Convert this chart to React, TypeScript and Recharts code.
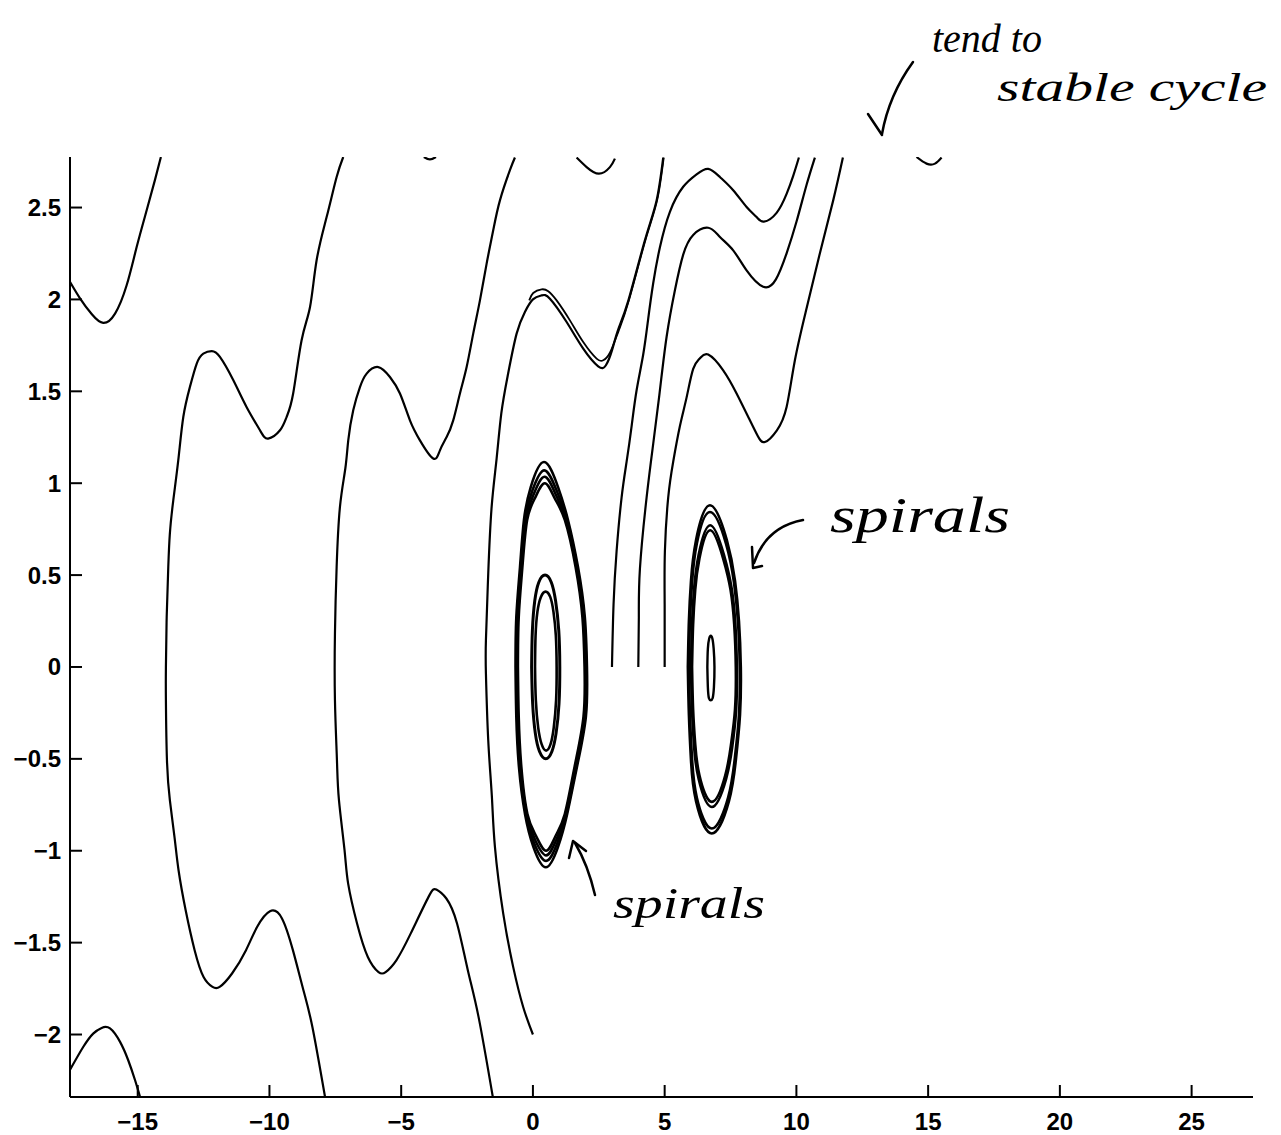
import React from "react";
import { LineChart, Line, XAxis, YAxis } from "recharts";

type P = [number, number];

const xTicks = [-15, -10, -5, 0, 5, 10, 15, 20, 25];
const yTicks = [-2, -1.5, -1, -0.5, 0, 0.5, 1, 1.5, 2, 2.5];
const xDomain: [number, number] = [-17.57, 27.33];
const yDomain: [number, number] = [-2.34, 2.775];

const curveA: P[] = [[-17.64, 2.113], [-17.19, 2.006], [-16.74, 1.919], [-16.31, 1.872], [-15.86, 1.923], [-15.42, 2.077], [-15.04, 2.285], [-14.66, 2.485], [-14.35, 2.648], [-14.12, 2.775]];
const curveA2: P[] = [[-17.6, -2.2], [-17.07, -2.068], [-16.69, -1.995], [-16.37, -1.964], [-16.05, -1.967], [-15.67, -2.04], [-15.36, -2.14], [-15.1, -2.249], [-14.91, -2.34]];
const curveB: P[] = [[-7.2, 2.775], [-7.45, 2.666], [-7.83, 2.448], [-8.21, 2.213], [-8.46, 1.959], [-8.78, 1.778], [-9.1, 1.488], [-9.35, 1.36], [-9.6, 1.288], [-10.05, 1.243], [-10.36, 1.288], [-10.87, 1.415], [-11.37, 1.56], [-11.88, 1.687], [-12.19, 1.719], [-12.51, 1.705], [-12.76, 1.651], [-13.02, 1.523], [-13.27, 1.36], [-13.46, 1.125], [-13.65, 0.907], [-13.78, 0.726], [-13.84, 0.544], [-13.9, 0.272], [-13.93, 0], [-13.93, -0.181], [-13.89, -0.508], [-13.78, -0.725], [-13.6, -0.93], [-13.45, -1.106], [-13.18, -1.324], [-12.84, -1.541], [-12.5, -1.687], [-12.16, -1.741], [-11.89, -1.741], [-11.42, -1.668], [-10.89, -1.541], [-10.47, -1.415], [-9.98, -1.329], [-9.53, -1.367], [-9.11, -1.541], [-8.71, -1.759], [-8.37, -1.959], [-7.89, -2.34]];
const curveC: P[] = [[-0.683, 2.772], [-0.873, 2.703], [-1.252, 2.539], [-1.507, 2.376], [-1.757, 2.195], [-2.011, 1.995], [-2.266, 1.814], [-2.516, 1.632], [-2.77, 1.488], [-3.025, 1.342], [-3.275, 1.251], [-3.529, 1.179], [-3.784, 1.134], [-4.288, 1.233], [-4.668, 1.342], [-5.047, 1.488], [-5.427, 1.578], [-5.871, 1.632], [-6.311, 1.596], [-6.565, 1.523], [-6.82, 1.397], [-7.009, 1.233], [-7.12, 1.08], [-7.324, 0.871], [-7.45, 0.544], [-7.514, 0.182], [-7.514, -0.181], [-7.438, -0.508], [-7.362, -0.725], [-7.15, -0.997], [-7.013, -1.179], [-6.675, -1.396], [-6.266, -1.578], [-5.86, -1.66], [-5.59, -1.66], [-5.184, -1.596], [-4.641, -1.451], [-3.962, -1.251], [-3.666, -1.211], [-3.286, -1.26], [-2.88, -1.396], [-2.471, -1.65], [-2.064, -1.904], [-1.522, -2.34]];
const curveD: P[] = [[0.0, -2.0], [-0.37, -1.85], [-0.75, -1.632], [-1.127, -1.342], [-1.442, -0.979], [-1.56, -0.7], [-1.696, -0.399], [-1.784, -0.036], [-1.784, 0.145], [-1.696, 0.508], [-1.567, 0.871], [-1.378, 1.134], [-1.2, 1.38], [-0.95, 1.59], [-0.619, 1.814], [-0.304, 1.932], [0.0, 2.0], [0.33, 2.022], [0.645, 2.004], [1.279, 1.877], [1.909, 1.732], [2.478, 1.636], [2.77, 1.642], [3.0, 1.723], [3.226, 1.832], [3.624, 1.995], [4.25, 2.322], [4.694, 2.539], [4.945, 2.772]];
const curveE: P[] = [[-0.14, 1.995], [0.011, 2.035], [0.33, 2.055], [0.581, 2.045], [0.899, 1.995], [1.404, 1.886], [1.909, 1.768], [2.417, 1.678], [2.668, 1.669], [2.922, 1.71], [3.256, 1.83], [3.643, 1.995], [4.269, 2.322], [4.713, 2.539], [4.964, 2.772]];
const arcTopLeft: P[] = [[-4.14, 2.775], [-3.91, 2.762], [-3.68, 2.775]];
const arcTopMid: P[] = [[1.658, 2.772], [2.038, 2.72], [2.505, 2.684], [2.922, 2.72], [3.112, 2.766]];
const arcTopRight: P[] = [[14.56, 2.775], [14.94, 2.739], [15.26, 2.739], [15.51, 2.772]];
const curveG1: P[] = [[3.0, 0], [3.06, 0.34], [3.176, 0.631], [3.366, 0.923], [3.556, 1.117], [3.746, 1.311], [3.935, 1.506], [4.186, 1.7], [4.375, 1.894], [4.565, 2.088], [4.82, 2.284], [5.199, 2.477], [5.704, 2.613], [6.212, 2.681], [6.653, 2.71], [7.097, 2.666], [7.601, 2.594], [8.11, 2.503], [8.489, 2.448], [8.767, 2.423], [9.248, 2.471], [9.628, 2.574], [9.879, 2.672], [10.095, 2.772]];
const curveG2: P[] = [[4.0, 0], [4.02, 0.27], [4.061, 0.534], [4.315, 0.923], [4.565, 1.214], [4.82, 1.506], [5.074, 1.797], [5.389, 2.05], [5.704, 2.244], [6.083, 2.351], [6.653, 2.39], [7.097, 2.34], [7.601, 2.267], [8.11, 2.158], [8.74, 2.069], [9.222, 2.109], [9.628, 2.251], [10.008, 2.425], [10.387, 2.624], [10.702, 2.772]];
const curveG3: P[] = [[5.0, 0], [5.0, 0.34], [5.009, 0.631], [5.135, 0.923], [5.324, 1.117], [5.579, 1.311], [5.833, 1.467], [6.083, 1.622], [6.338, 1.68], [6.653, 1.7], [7.222, 1.614], [7.73, 1.488], [8.235, 1.342], [8.539, 1.255], [8.805, 1.224], [9.26, 1.288], [9.628, 1.415], [9.943, 1.669], [10.387, 1.952], [10.892, 2.251], [11.397, 2.539], [11.765, 2.772]];

const leftLoop1: P[] = [[-0.66, 0], [-0.63, 0.27], [-0.49, 0.544], [-0.34, 0.8], [-0.08, 0.98], [0.42, 1.115], [0.95, 0.98], [1.33, 0.8], [1.71, 0.544], [1.97, 0.27], [2.05, 0], [2.01, -0.27], [1.67, -0.544], [1.3, -0.8], [0.95, -0.98], [0.49, -1.09], [0.02, -0.98], [-0.3, -0.8], [-0.53, -0.544], [-0.63, -0.27], [-0.66, 0]];
const leftLoop2: P[] = [[-0.63, 0], [-0.6, 0.27], [-0.46, 0.544], [-0.3, 0.8], [-0.02, 0.96], [0.43, 1.07], [0.9, 0.96], [1.29, 0.8], [1.68, 0.544], [1.94, 0.27], [2.02, 0], [1.98, -0.27], [1.64, -0.544], [1.27, -0.8], [0.92, -0.96], [0.5, -1.055], [0.05, -0.96], [-0.27, -0.8], [-0.5, -0.544], [-0.6, -0.27], [-0.63, 0]];
const leftLoop3: P[] = [[-0.6, 0], [-0.57, 0.27], [-0.43, 0.544], [-0.26, 0.8], [0.03, 0.94], [0.44, 1.035], [0.86, 0.94], [1.25, 0.8], [1.65, 0.544], [1.91, 0.27], [1.99, 0], [1.95, -0.27], [1.61, -0.544], [1.24, -0.8], [0.89, -0.94], [0.5, -1.025], [0.08, -0.94], [-0.24, -0.8], [-0.47, -0.544], [-0.57, -0.27], [-0.6, 0]];
const leftLoop4: P[] = [[-0.57, 0], [-0.54, 0.27], [-0.4, 0.544], [-0.22, 0.8], [0.08, 0.92], [0.45, 1.0], [0.82, 0.92], [1.21, 0.8], [1.62, 0.544], [1.88, 0.27], [1.96, 0], [1.92, -0.27], [1.58, -0.544], [1.21, -0.8], [0.86, -0.92], [0.5, -1.0], [0.12, -0.92], [-0.21, -0.8], [-0.44, -0.544], [-0.54, -0.27], [-0.57, 0]];
const leftInner1: P[] = [[-0.05, 0], [-0.02, 0.2], [0.07, 0.36], [0.22, 0.46], [0.46, 0.5], [0.7, 0.46], [0.86, 0.36], [0.98, 0.2], [1.02, 0], [0.99, -0.2], [0.88, -0.36], [0.72, -0.46], [0.49, -0.5], [0.25, -0.46], [0.09, -0.36], [-0.01, -0.2], [-0.05, 0]];
const leftInner2: P[] = [[0.08, 0], [0.1, 0.17], [0.17, 0.3], [0.3, 0.38], [0.48, 0.41], [0.66, 0.38], [0.78, 0.3], [0.87, 0.17], [0.9, 0], [0.88, -0.18], [0.79, -0.33], [0.67, -0.42], [0.5, -0.455], [0.33, -0.42], [0.2, -0.33], [0.11, -0.18], [0.08, 0]];

const rightLoop1: P[] = [[5.88, 0], [5.92, 0.25], [6.0, 0.47], [6.19, 0.69], [6.72, 0.88], [7.36, 0.69], [7.67, 0.47], [7.82, 0.25], [7.89, 0], [7.86, -0.26], [7.7, -0.51], [7.44, -0.73], [6.79, -0.906], [6.19, -0.73], [6.0, -0.51], [5.92, -0.26], [5.88, 0]];
const rightLoop2: P[] = [[5.92, 0], [5.96, 0.25], [6.04, 0.46], [6.22, 0.67], [6.72, 0.843], [7.33, 0.67], [7.63, 0.46], [7.78, 0.25], [7.85, 0], [7.82, -0.26], [7.66, -0.5], [7.41, -0.71], [6.79, -0.879], [6.22, -0.71], [6.04, -0.5], [5.96, -0.26], [5.92, 0]];
const rightLoop3: P[] = [[6.0, 0], [6.04, 0.24], [6.12, 0.43], [6.29, 0.61], [6.73, 0.771], [7.25, 0.61], [7.54, 0.43], [7.68, 0.24], [7.74, 0], [7.71, -0.24], [7.56, -0.44], [7.33, -0.61], [6.79, -0.762], [6.29, -0.61], [6.12, -0.44], [6.04, -0.24], [6.0, 0]];
const rightLoop4: P[] = [[6.04, 0], [6.08, 0.23], [6.16, 0.42], [6.32, 0.59], [6.73, 0.744], [7.22, 0.59], [7.5, 0.42], [7.64, 0.23], [7.7, 0], [7.67, -0.23], [7.52, -0.42], [7.3, -0.59], [6.79, -0.734], [6.32, -0.59], [6.16, -0.42], [6.08, -0.23], [6.04, 0]];
const rightInner: P[] = [[6.62, 0.0], [6.64, 0.1], [6.69, 0.155], [6.75, 0.17], [6.81, 0.155], [6.86, 0.1], [6.89, 0.0], [6.87, -0.11], [6.82, -0.17], [6.75, -0.181], [6.68, -0.17], [6.64, -0.11], [6.62, 0.0]];

const series: { id: string; pts: P[]; w: number }[] = [
  { id: "A", pts: curveA, w: 2.2 },
  { id: "A2", pts: curveA2, w: 2.2 },
  { id: "B", pts: curveB, w: 2.2 },
  { id: "C", pts: curveC, w: 2.2 },
  { id: "D", pts: curveD, w: 2.2 },
  { id: "E", pts: curveE, w: 1.8 },
  { id: "t1", pts: arcTopLeft, w: 2.2 },
  { id: "t2", pts: arcTopMid, w: 2.2 },
  { id: "t3", pts: arcTopRight, w: 2.2 },
  { id: "G1", pts: curveG1, w: 2.2 },
  { id: "G2", pts: curveG2, w: 2.2 },
  { id: "G3", pts: curveG3, w: 2.2 },
  { id: "L1", pts: leftLoop1, w: 2.6 },
  { id: "L2", pts: leftLoop2, w: 2.6 },
  { id: "L3", pts: leftLoop3, w: 2.6 },
  { id: "L4", pts: leftLoop4, w: 2.6 },
  { id: "LI1", pts: leftInner1, w: 3 },
  { id: "LI2", pts: leftInner2, w: 2.6 },
  { id: "R1", pts: rightLoop1, w: 2.6 },
  { id: "R2", pts: rightLoop2, w: 2.6 },
  { id: "R3", pts: rightLoop3, w: 2.6 },
  { id: "R4", pts: rightLoop4, w: 2.6 },
  { id: "RI", pts: rightInner, w: 2.4 },
];

const rows = (pts: P[]) => pts.map(([x, y]) => ({ x, y }));
const fmt = (v: number) => (v < 0 ? "\u2212" + String(Math.abs(v)) : String(v));
const FONT = "'Liberation Sans', Arial, Helvetica, sans-serif";

const XTick = (props: any) => {
  const { x, y, payload } = props;
  return (
    <g>
      <line x1={x} y1={y} x2={x} y2={y - 12} stroke="#000" strokeWidth={2} />
      <text x={x} y={y + 24} textAnchor="middle" dominantBaseline="central" fontFamily={FONT} fontWeight="bold" fontSize={24} fill="#000">
        {fmt(payload.value)}
      </text>
    </g>
  );
};

const YTick = (props: any) => {
  const { x, y, payload } = props;
  return (
    <g>
      <line x1={x} y1={y} x2={x + 12} y2={y} stroke="#000" strokeWidth={2} />
      <text x={x - 9} y={y} textAnchor="end" dominantBaseline="central" fontFamily={FONT} fontWeight="bold" fontSize={24} fill="#000">
        {fmt(payload.value)}
      </text>
    </g>
  );
};

const HAND = "'Liberation Serif', 'DejaVu Serif', serif";

export default function App() {
  return (
    <div style={{ position: "relative", width: 1265, height: 1127, background: "#fff" }}>
      <LineChart width={1265} height={1127} margin={{ top: 149, right: 20, bottom: 0, left: 0 }}>
        <XAxis
          type="number"
          dataKey="x"
          domain={xDomain}
          ticks={xTicks}
          allowDataOverflow
          interval={0}
          height={38}
          tickSize={0}
          tickMargin={0}
          tickLine={false}
          axisLine={{ stroke: "#000", strokeWidth: 2 }}
          tick={<XTick />}
        />
        <YAxis
          type="number"
          domain={yDomain}
          ticks={yTicks}
          allowDataOverflow
          interval={0}
          width={62}
          tickSize={0}
          tickMargin={0}
          tickLine={false}
          axisLine={{ stroke: "#000", strokeWidth: 2 }}
          tick={<YTick />}
        />
        {series.map((s) => (
          <Line
            key={s.id}
            data={rows(s.pts)}
            dataKey="y"
            type="natural"
            stroke="#000"
            strokeWidth={s.w}
            dot={false}
            activeDot={false}
            isAnimationActive={false}
          />
        ))}
      </LineChart>
      <svg style={{ position: "absolute", left: 0, top: 0, pointerEvents: "none" }} width={1265} height={1127}>
        <g fill="none" stroke="#000" strokeWidth={2.5} strokeLinecap="round" strokeLinejoin="round">
          <path d="M905 54 Q881 87 874 126" />
          <path d="M860 106 L874 127" />
          <path d="M795 512 Q758 519 746 555" />
          <path d="M744 539 L745 560 L754 558" />
          <path d="M587 887 Q580 857 567 835" />
          <path d="M561 850 L565 833 L578 843" />
        </g>
        <g fill="#000" fontFamily={HAND} fontStyle="italic">
          <text x={924} y={44} fontSize={40}>tend to</text>
          <text x={989} y={93} fontSize={40} textLength={270} lengthAdjust="spacingAndGlyphs">stable cycle</text>
          <text x={822} y={524} fontSize={50} textLength={180} lengthAdjust="spacingAndGlyphs">spirals</text>
          <text x={605} y={910} fontSize={44} textLength={152} lengthAdjust="spacingAndGlyphs">spirals</text>
        </g>
      </svg>
    </div>
  );
}
